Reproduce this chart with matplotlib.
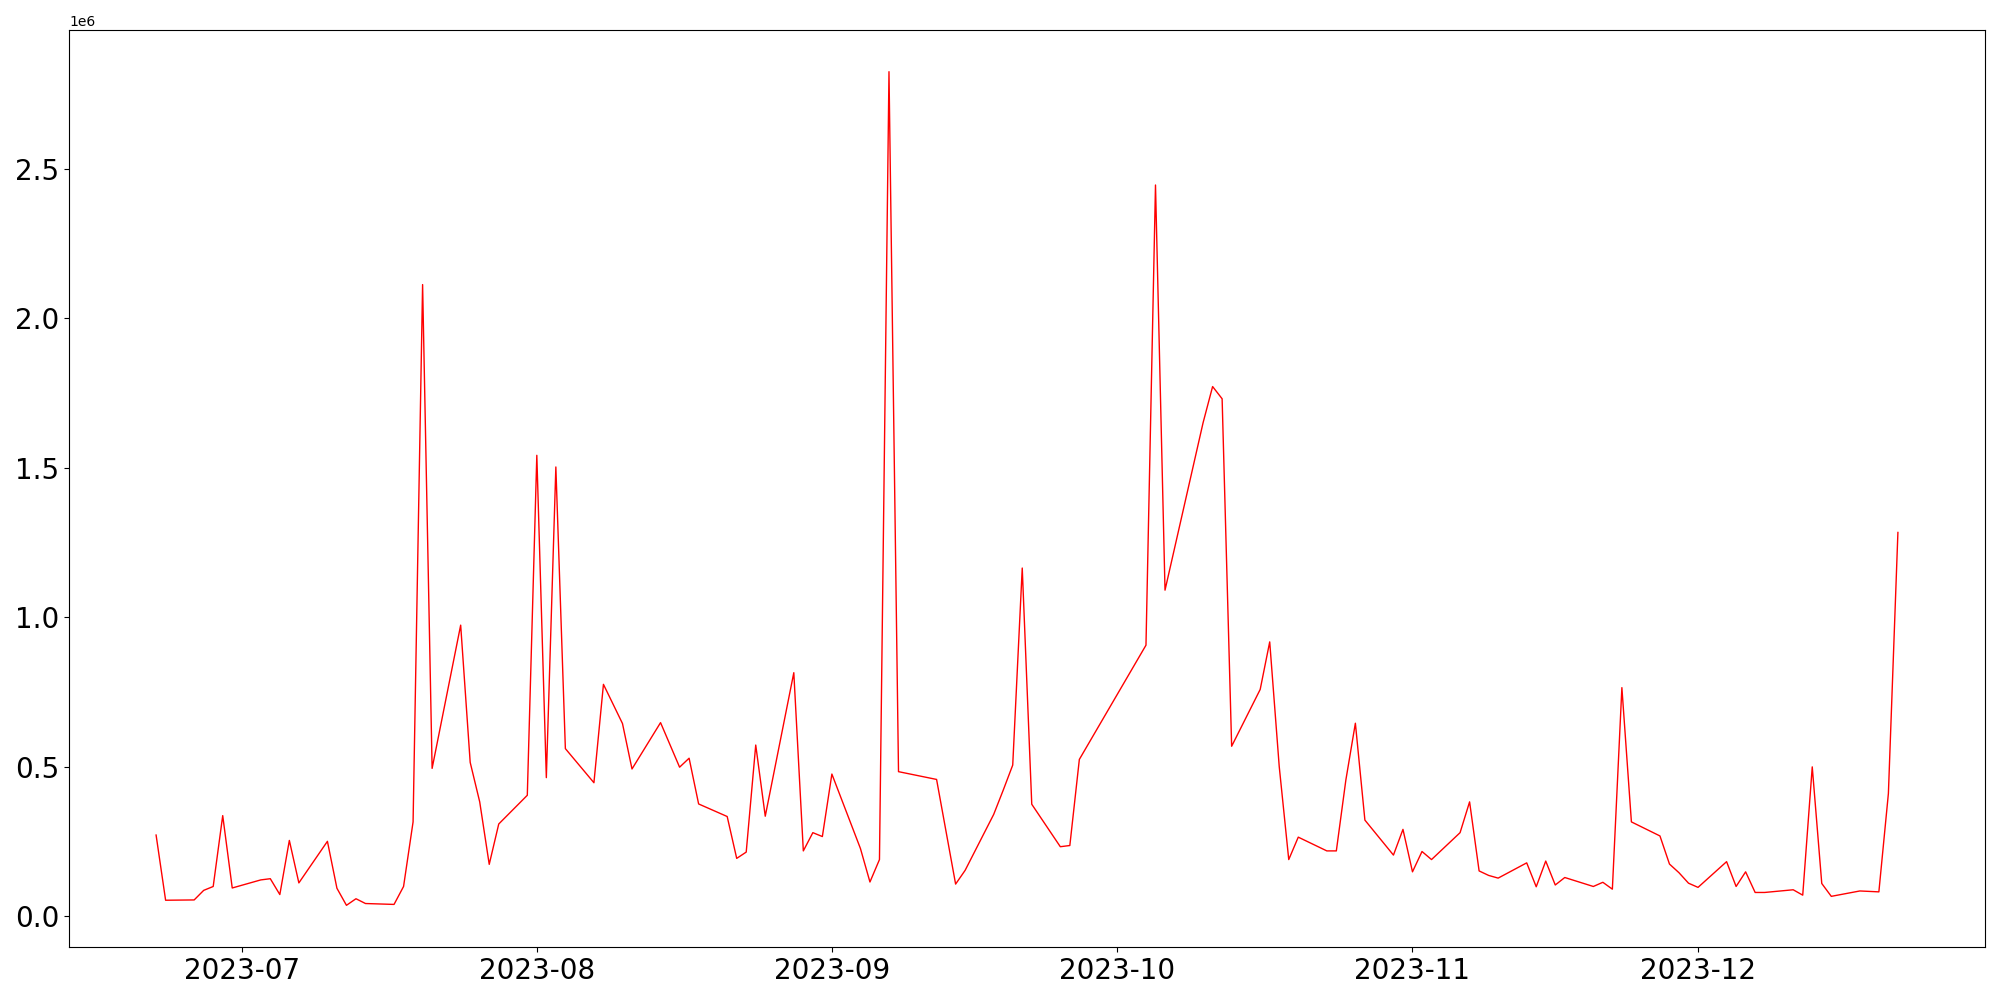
import pandas as pd
import matplotlib
matplotlib.use('Agg')
import matplotlib.pyplot as plt

dates = [
    '2023-06-22', '2023-06-23', '2023-06-26', '2023-06-27', '2023-06-28', '2023-06-29', '2023-06-30',
    '2023-07-03', '2023-07-04', '2023-07-05', '2023-07-06', '2023-07-07',
    '2023-07-10', '2023-07-11', '2023-07-12', '2023-07-13', '2023-07-14',
    '2023-07-17', '2023-07-18', '2023-07-19', '2023-07-20', '2023-07-21',
    '2023-07-24', '2023-07-25', '2023-07-26', '2023-07-27', '2023-07-28',
    '2023-07-31', '2023-08-01', '2023-08-02', '2023-08-03', '2023-08-04',
    '2023-08-07', '2023-08-08', '2023-08-10', '2023-08-11',
    '2023-08-14', '2023-08-16', '2023-08-17', '2023-08-18',
    '2023-08-21', '2023-08-22', '2023-08-23', '2023-08-24', '2023-08-25',
    '2023-08-28', '2023-08-29', '2023-08-30', '2023-08-31', '2023-09-01',
    '2023-09-04', '2023-09-05', '2023-09-06', '2023-09-07', '2023-09-08',
    '2023-09-12', '2023-09-14', '2023-09-15',
    '2023-09-18', '2023-09-19', '2023-09-20', '2023-09-21', '2023-09-22',
    '2023-09-25', '2023-09-26', '2023-09-27',
    '2023-10-04', '2023-10-05', '2023-10-06',
    '2023-10-10', '2023-10-11', '2023-10-12', '2023-10-13',
    '2023-10-16', '2023-10-17', '2023-10-18', '2023-10-19', '2023-10-20',
    '2023-10-23', '2023-10-24', '2023-10-25', '2023-10-26', '2023-10-27',
    '2023-10-30', '2023-10-31', '2023-11-01', '2023-11-02', '2023-11-03',
    '2023-11-06', '2023-11-07', '2023-11-08', '2023-11-09', '2023-11-10',
    '2023-11-13', '2023-11-14', '2023-11-15', '2023-11-16', '2023-11-17',
    '2023-11-20', '2023-11-21', '2023-11-22', '2023-11-23', '2023-11-24',
    '2023-11-27', '2023-11-28', '2023-11-29', '2023-11-30', '2023-12-01',
    '2023-12-04', '2023-12-05', '2023-12-06', '2023-12-07', '2023-12-08',
    '2023-12-11', '2023-12-12', '2023-12-13', '2023-12-14', '2023-12-15',
    '2023-12-18', '2023-12-20', '2023-12-21', '2023-12-22',
]

volume = [
    271000, 53000, 54000, 86000, 99000, 336000, 94000,
    121000, 125000, 72000, 253000, 111000,
    250000, 93000, 36000, 58000, 42000,
    39000, 99000, 315000, 2112000, 494000,
    973000, 514000, 382000, 173000, 308000,
    404000, 1541000, 463000, 1502000, 560000,
    446000, 775000, 644000, 492000,
    647000, 498000, 528000, 375000,
    333000, 193000, 214000, 572000, 334000,
    814000, 218000, 279000, 266000, 475000,
    226000, 114000, 189000, 2824000, 483000,
    457000, 107000, 153000,
    340000, 421000, 505000, 1164000, 374000,
    232000, 236000, 524000,
    906000, 2445000, 1090000,
    1650000, 1771000, 1730000, 568000,
    758000, 917000, 500000, 189000, 264000,
    218000, 218000, 455000, 645000, 321000,
    204000, 290000, 148000, 216000, 189000,
    279000, 382000, 151000, 136000, 127000,
    178000, 98000, 184000, 104000, 129000,
    99000, 113000, 90000, 764000, 315000,
    268000, 174000, 145000, 110000, 96000,
    182000, 99000, 148000, 79000, 79000,
    88000, 70000, 499000, 109000, 66000,
    84000, 81000, 410000, 1283000,
]

x = pd.Series(volume, index=pd.to_datetime(dates))

fig, ax = plt.subplots(figsize=(20, 10))
fig.subplots_adjust(left=0.0345, right=0.9925, top=0.97, bottom=0.053)

ax.plot(x.index, x.values, color='red', linewidth=1.0)

plt.xticks(fontsize=20)
plt.yticks(fontsize=20)

fig.savefig('out.png', dpi=100)
